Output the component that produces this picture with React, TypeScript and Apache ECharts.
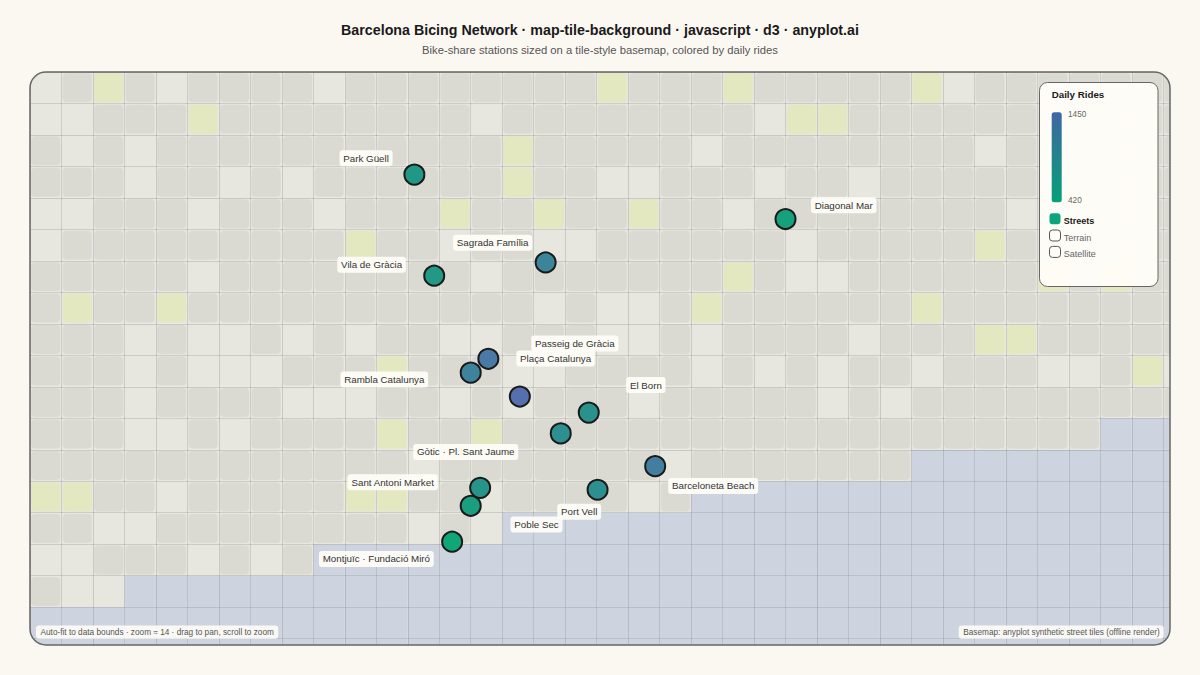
import { useEffect, useRef } from 'react'
import * as echarts from 'echarts'

const pageBg = '#fbf8f2'
const fontFamily = 'Liberation Sans'

// one char per tile: # block, . open ground, g park, w water
const tileRows = [
  '.#g#.####.' + '########g#' + '##g#####g.' + '#######',
  '..###g####' + '####.#####' + '###.gg####' + '#######',
  '#.#.######' + '#####g####' + '#.########' + '.######',
  '###.##.#.#' + '#####g##..' + '###.##.###' + '#######',
  '..###.###.' + '###g##g##g' + '##.#######' + '#.#####',
  '.#########' + 'g##.##..##' + '####.#####' + 'g######',
  '#####.####' + '####.#####' + '##g#..####' + '##g#g##',
  '#g##g#####' + '######.#..' + '#g######g#' + '#######',
  '###.#..#.#' + '.##..###..' + '#.####.###' + 'gg#####',
  '###.#...##' + '#g###..###' + '#.#.#.##.#' + '##..#g.',
  '###.####..' + '.##.#.###.' + '#####.#.##' + '#######',
  '###..#.###' + '#g##g#####' + '##########' + '####www',
  '##########' + '##.#######' + '.#######ww' + 'wwwwwww',
  'gg##.#####' + 'gg##.####.' + '#wwwwwwwww' + 'wwwwwww',
  '##..######' + '##.#.wwwww' + 'wwwwwwwwww' + 'wwwwwww',
  '..###.#.#w' + 'wwwwwwwwww' + 'wwwwwwwwww' + 'wwwwwww',
  '#..wwwwwww' + 'wwwwwwwwww' + 'wwwwwwwwww' + 'wwwwwww',
  'wwwwwwwwww' + 'wwwwwwwwww' + 'wwwwwwwwww' + 'wwwwwww',
  'wwwwwwwwww' + 'wwwwwwwwww' + 'wwwwwwwwww' + 'wwwwwww',
]
const tileKinds = ['#', '.', 'g', 'w']

const stationNames = [
  'Park Güell', 'Diagonal Mar', 'Sagrada Família', 'Vila de Gràcia', 'Passeig de Gràcia',
  'Rambla Catalunya', 'Plaça Catalunya', 'El Born', 'Gòtic · Pl. Sant Jaume', 'Barceloneta Beach',
  'Sant Antoni Market', 'Port Vell', 'Poble Sec', 'Montjuïc · Fundació Miró',
]
// station position in tile units
const stationCol = [12.21, 24.0, 16.38, 12.84, 14.56, 14.0, 15.56, 17.75, 16.86, 19.86, 14.3, 18.03, 14.0, 13.41]
const stationRow = [3.26, 4.67, 6.05, 6.47, 9.11, 9.55, 10.31, 10.82, 11.48, 12.52, 13.21, 13.27, 13.78, 14.92]
const dailyRides = [680, 510, 1060, 690, 1280, 1090, 1450, 800, 860, 1180, 760, 850, 580, 420]

const labelOffsets = [
  [-48.3, -16.4], [58.2, -13.8], [-53, -19.8], [-62.6, -10.9], [86.5, -15.4],
  [-86.4, 6.8], [35.8, -38], [57.1, -27.5], [-95, 18.5], [58, 19.8],
  [-87.5, -5.7], [-18.4, 22], [65.8, 18.8], [-75.8, 17.3],
]

const ridesMin = 420
const ridesMax = 1450

const tileData: number[][] = []
tileRows.forEach((row, r) => {
  row.split('').forEach((ch, c) => tileData.push([c, r, tileKinds.indexOf(ch)]))
})

function renderTile(_params: any, api: any) {
  const [x, y] = api.coord([api.value(0), api.value(1)])
  const [w, h] = api.size([1, 1])
  const kind = tileKinds[api.value(2)]
  const full = (fill: string) => ({ type: 'rect', shape: { x, y, width: w, height: h }, style: { fill } })
  if (kind === 'w') return full('#cdd4df')
  if (kind === '.') return full('#e7e7df')
  return {
    type: 'group',
    children: [
      full('#e7e7df'),
      {
        type: 'rect',
        shape: { x: x + 1.25, y: y + 1.25, width: w - 2.5, height: h - 2.5, r: 4 },
        style: { fill: kind === 'g' ? '#e3e8c0' : '#dadad3' },
      },
    ],
  }
}

const frameMask =
  'M28 70H1172V647H28Z M46 72A16 16 0 0 0 30 88V629A16 16 0 0 0 46 645H1154A16 16 0 0 0 1170 629V88A16 16 0 0 0 1154 72Z'
echarts.graphic.registerShape('frameMask', echarts.graphic.extendPath(frameMask, {}))

function legendText(text: string, x: number, y: number, extra: any = {}) {
  return {
    type: 'text', x, y, z: 62,
    style: { text, fill: '#666', fontSize: 9, fontFamily, verticalAlign: 'middle', ...extra },
  }
}

function note(text: string, x: number, width: number) {
  return {
    type: 'group', z: 60,
    children: [
      { type: 'rect', z: 60, shape: { x, y: 625.5, width, height: 13.2, r: 3 }, style: { fill: 'rgba(255,253,247,0.88)' } },
      { type: 'text', z: 61, x: x + 4.5, y: 632.2, style: { text, fill: '#555', fontSize: 8.25, fontFamily, verticalAlign: 'middle' } },
    ],
  }
}

export default function App() {
  const chartRef = useRef<HTMLDivElement>(null)

  useEffect(() => {
    document.body.style.margin = '0'
    document.body.style.background = pageBg
    if (!chartRef.current) return
    const chart = echarts.init(chartRef.current, undefined, { renderer: 'svg' })
    const splitLine = { show: true, lineStyle: { color: 'rgba(90,95,100,0.22)', width: 1 } }
    chart.setOption({
      animation: false,
      backgroundColor: pageBg,
      textStyle: { fontFamily },
      title: {
        left: 'center',
        top: 17.5,
        itemGap: 7.5,
        text: 'Barcelona Bicing Network · map-tile-background · javascript · d3 · anyplot.ai',
        textStyle: { fontSize: 14.25, fontWeight: 'bold', color: '#1a1a1a', fontFamily },
        subtext: 'Bike-share stations sized on a tile-style basemap, colored by daily rides',
        subtextStyle: { fontSize: 11.25, color: '#555', fontFamily },
      },
      grid: { left: 30, top: 72, width: 1140, height: 573 },
      xAxis: {
        type: 'value', min: 0, max: 36.214, interval: 1, z: 3,
        axisLine: { show: false }, axisTick: { show: false }, axisLabel: { show: false }, splitLine,
      },
      yAxis: {
        type: 'value', min: 0, max: 18.202, interval: 1, inverse: true, z: 3,
        axisLine: { show: false }, axisTick: { show: false }, axisLabel: { show: false }, splitLine,
      },
      visualMap: {
        show: false, seriesIndex: 1, dimension: 2, min: ridesMin, max: ridesMax,
        inRange: { color: ['#10a678', '#5570ae'] },
      },
      series: [
        {
          type: 'custom', z: 2, silent: true, clip: true,
          encode: { x: 0, y: 1 },
          data: tileData,
          renderItem: renderTile,
        },
        {
          type: 'scatter', z: 5,
          symbolSize: 20,
          itemStyle: { borderColor: '#1a1a1a', borderWidth: 2, opacity: 1 },
          data: stationNames.map((name, i) => ({
            name,
            value: [stationCol[i], stationRow[i], dailyRides[i]],
            label: {
              show: true, position: 'inside', offset: labelOffsets[i], formatter: name,
              color: '#333', fontSize: 9.75, lineHeight: 10, fontFamily,
              backgroundColor: 'rgba(255,253,247,0.93)', borderRadius: 3, padding: [3, 3.75],
            },
          })),
        },
      ],
      graphic: {
        elements: [
          { type: 'frameMask', x: 0, y: 0, z: 50, style: { fill: pageBg } },
          { type: 'rect', z: 51, shape: { x: 30, y: 72, width: 1140, height: 573, r: 16 }, style: { fill: 'none', stroke: '#666', lineWidth: 1.5 } },
          note('Auto-fit to data bounds · zoom ≈ 14 · drag to pan, scroll to zoom', 36, 242.3),
          note('Basemap: anyplot synthetic street tiles (offline render)', 958.7, 205),
          { type: 'rect', z: 60, shape: { x: 1039.5, y: 82.5, width: 118.5, height: 204, r: 8 }, style: { fill: 'rgba(255,253,247,0.96)', stroke: '#666', lineWidth: 1 } },
          legendText('Daily Rides', 1051.7, 94.5, { fontWeight: 'bold', fontSize: 9.75, fill: '#1a1a1a' }),
          {
            type: 'rect', z: 61, shape: { x: 1051.7, y: 112.3, width: 10, height: 90, r: 2.5 },
            style: {
              fill: new echarts.graphic.LinearGradient(0, 0, 0, 1, [
                { offset: 0, color: '#3f66a3' },
                { offset: 1, color: '#05a078' },
              ]),
            },
          },
          legendText(String(ridesMax), 1068, 114.5, { fontSize: 8.25 }),
          legendText(String(ridesMin), 1068, 200, { fontSize: 8.25 }),
          { type: 'rect', z: 61, shape: { x: 1049.5, y: 213.3, width: 11, height: 11, r: 3 }, style: { fill: '#0ba47b' } },
          legendText('Streets', 1063.7, 221, { fontWeight: 'bold', fill: '#1a1a1a' }),
          { type: 'rect', z: 61, shape: { x: 1049.5, y: 230, width: 11, height: 11, r: 3 }, style: { fill: 'none', stroke: '#555', lineWidth: 1 } },
          legendText('Terrain', 1063.7, 237.6),
          { type: 'rect', z: 61, shape: { x: 1049.5, y: 246.4, width: 11, height: 11, r: 3 }, style: { fill: 'none', stroke: '#555', lineWidth: 1 } },
          legendText('Satellite', 1063.7, 254),
        ],
      },
    })
    return () => chart.dispose()
  }, [])

  return <div ref={chartRef} style={{ width: 1200, height: 675 }} />
}
